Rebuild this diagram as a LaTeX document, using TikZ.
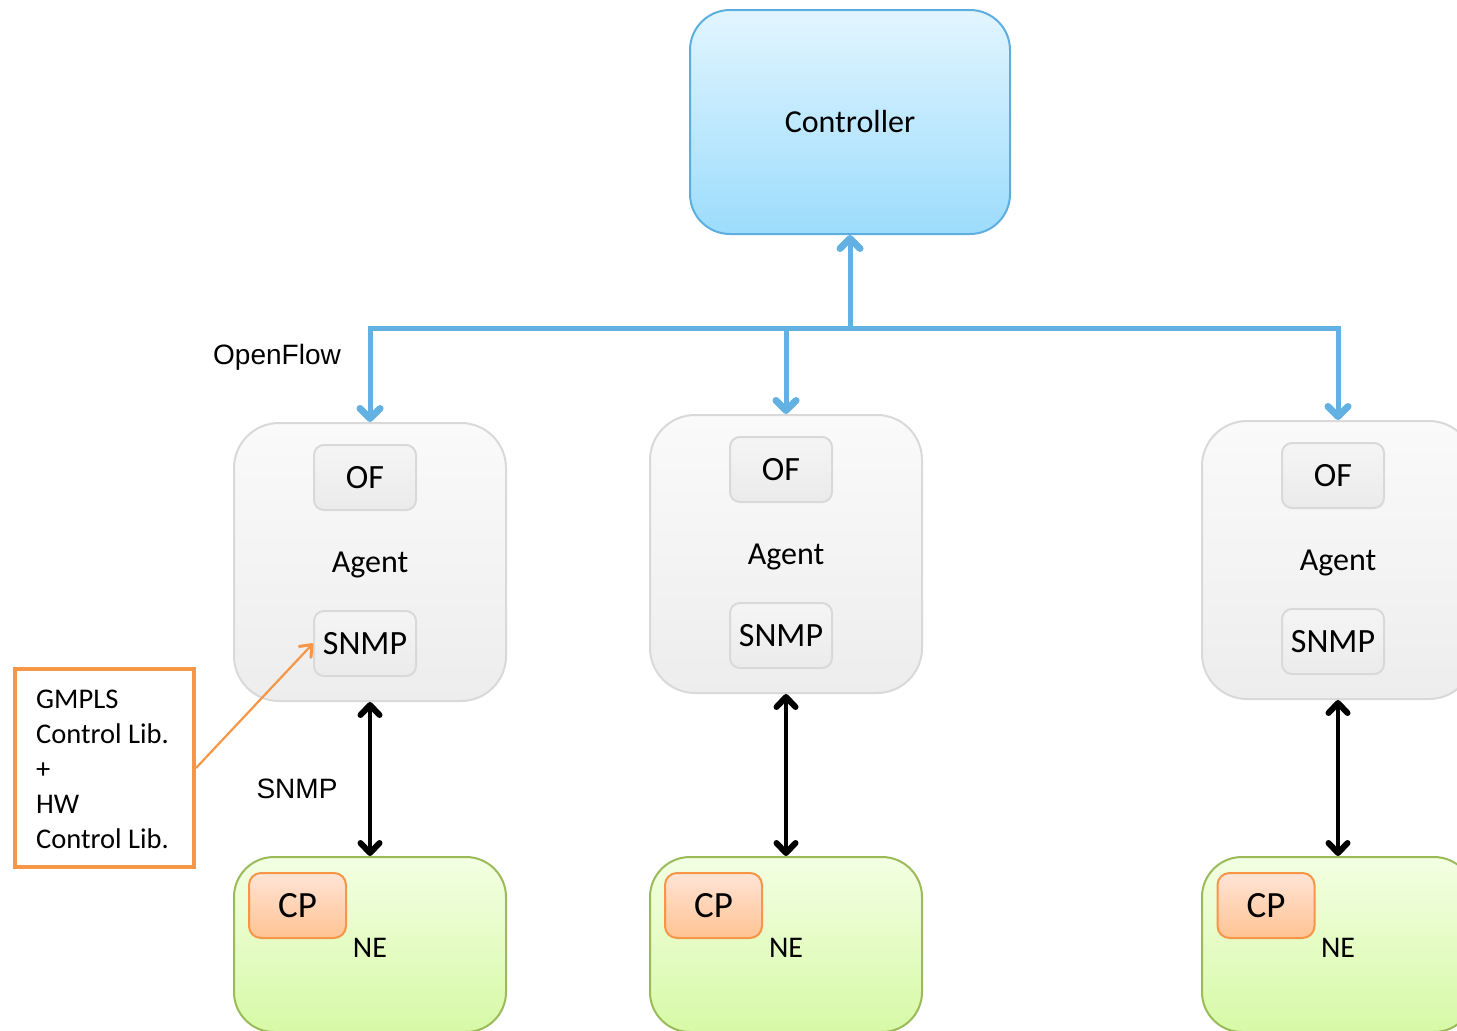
\documentclass[tikz,border=0pt]{standalone}
\usepackage{fontspec}
\setmainfont{Carlito}
\newfontfamily\labelfont{Liberation Sans}
\usetikzlibrary{arrows.meta}

\definecolor{ctrlTop}{HTML}{E2F5FF}
\definecolor{ctrlBot}{HTML}{9CDCFC}
\definecolor{ctrlLine}{HTML}{5DAEE0}
\definecolor{ofBlue}{HTML}{63B1E2}
\definecolor{agentTop}{HTML}{FAFAFA}
\definecolor{agentBot}{HTML}{EDEDED}
\definecolor{agentLine}{HTML}{D9D9D9}
\definecolor{neTop}{HTML}{F3FFE3}
\definecolor{neBot}{HTML}{D7F9A6}
\definecolor{neLine}{HTML}{9BBB59}
\definecolor{cpTop}{HTML}{FFE4D6}
\definecolor{cpBot}{HTML}{FFC393}
\definecolor{orangeLine}{HTML}{F79646}

\tikzset{
  controllerbox/.style={draw=ctrlLine, line width=2pt, rounded corners=40pt,
    top color=ctrlTop, bottom color=ctrlBot, minimum width=320pt, minimum height=224pt,
    inner sep=0pt, font=\fontsize{32}{37}\selectfont},
  agentbox/.style={draw=agentLine, line width=2pt, rounded corners=45pt,
    top color=agentTop, bottom color=agentBot, minimum width=272pt, minimum height=278pt,
    inner sep=0pt},
  modbox/.style={draw=agentLine, line width=2pt, rounded corners=10pt,
    top color=white!96!black, bottom color=white!92!black, minimum width=102pt, minimum height=65pt,
    inner sep=0pt, font=\fontsize{34}{38}\selectfont},
  nebox/.style={draw=neLine, line width=2pt, rounded corners=40pt,
    top color=neTop, bottom color=neBot, minimum width=272pt, minimum height=175pt,
    inner sep=0pt},
  cpbox/.style={draw=orangeLine, line width=2pt, rounded corners=12pt,
    top color=cpTop, bottom color=cpBot, minimum width=97pt, minimum height=65pt,
    inner sep=0pt, font=\fontsize{37}{40}\selectfont},
  intext/.style={inner sep=0pt, font=\fontsize{32}{37}\selectfont},
  netext/.style={inner sep=0pt, font=\fontsize{30}{34}\selectfont},
  plainlabel/.style={inner sep=0pt, font=\labelfont\fontsize{28}{33}\selectfont},
  libbox/.style={draw=orangeLine, line width=4pt, fill=white, minimum width=179pt,
    minimum height=198pt, inner sep=0pt},
  ofarrow/.style={draw=ofBlue, line width=5pt, line cap=round,
    -{Straight Barb[length=10pt,width=20pt,line width=7pt,round]}},
  snmparrow/.style={draw=black, line width=4pt, line cap=round,
    {Straight Barb[length=10pt,width=19pt,line width=6pt,round]}-{Straight Barb[length=10pt,width=19pt,line width=6pt,round]}},
  libarrow/.style={draw=orangeLine, line width=2.2pt,
    -{Straight Barb[length=10pt,width=16pt,line width=3pt,round]}}
}

\begin{document}
\begin{tikzpicture}[x=1pt,y=-1pt]
\useasboundingbox (0,0) rectangle (1457,1031);
\clip (0,0) rectangle (1457,1031);

% controller
\node[controllerbox] (ctrl) at (850,122) {Controller};

% agents with their OF and SNMP modules
\node[agentbox] (agent1) at (370,562) {};
\node[agentbox] (agent2) at (786,554) {};
\node[agentbox] (agent3) at (1338,560) {};

\node[modbox] (of1) at (365,477.5) {OF};
\node[modbox] (of2) at (781,469.5) {OF};
\node[modbox] (of3) at (1333,475.5) {OF};
\node[modbox] (snmp1) at (365,643.5) {SNMP};
\node[modbox] (snmp2) at (781,635.5) {SNMP};
\node[modbox] (snmp3) at (1333,641.5) {SNMP};

\node[intext] (agentlbl1) at (370,565) {Agent};
\node[intext] (agentlbl2) at (786,557) {Agent};
\node[intext] (agentlbl3) at (1338,563) {Agent};

% network elements
\node[nebox] (ne1) at (370,944.5) {};
\node[nebox] (ne2) at (786,944.5) {};
\node[nebox] (ne3) at (1338,944.5) {};

\node[cpbox] (cp1) at (297.5,905.5) {CP};
\node[cpbox] (cp2) at (713.5,905.5) {CP};
\node[cpbox] (cp3) at (1266,905.5) {CP};

\node[netext] (nelbl1) at (370,948) {NE};
\node[netext] (nelbl2) at (786,948) {NE};
\node[netext] (nelbl3) at (1338,948) {NE};

% OpenFlow tree
\coordinate (junction) at (850,328);
\draw[ofarrow] (junction) -- (ctrl.south);
\draw[ofarrow] (junction) -| (agent1.north);
\draw[ofarrow] (junction) -| (agent2.north);
\draw[ofarrow] (junction) -| (agent3.north);
\node[plainlabel] (oflabel) at (277,357) {OpenFlow};

% SNMP links
\draw[snmparrow] (agent1.south) -- (ne1.north);
\draw[snmparrow] (agent2.south) -- (ne2.north);
\draw[snmparrow] (agent3.south) -- (ne3.north);
\node[plainlabel] (snmplabel) at (297,789) {SNMP};

% library note
\node[libbox] (lib) at (104.5,768) {};
\node[anchor=west, inner sep=0pt, align=left,
  font=\fontsize{28.5}{35}\selectfont] (libtext) at (36,769)
  {GMPLS\\Control Lib.\\+\\HW\\Control Lib.};
\draw[libarrow] (lib.east) -- (snmp1.west);
\end{tikzpicture}
\end{document}
